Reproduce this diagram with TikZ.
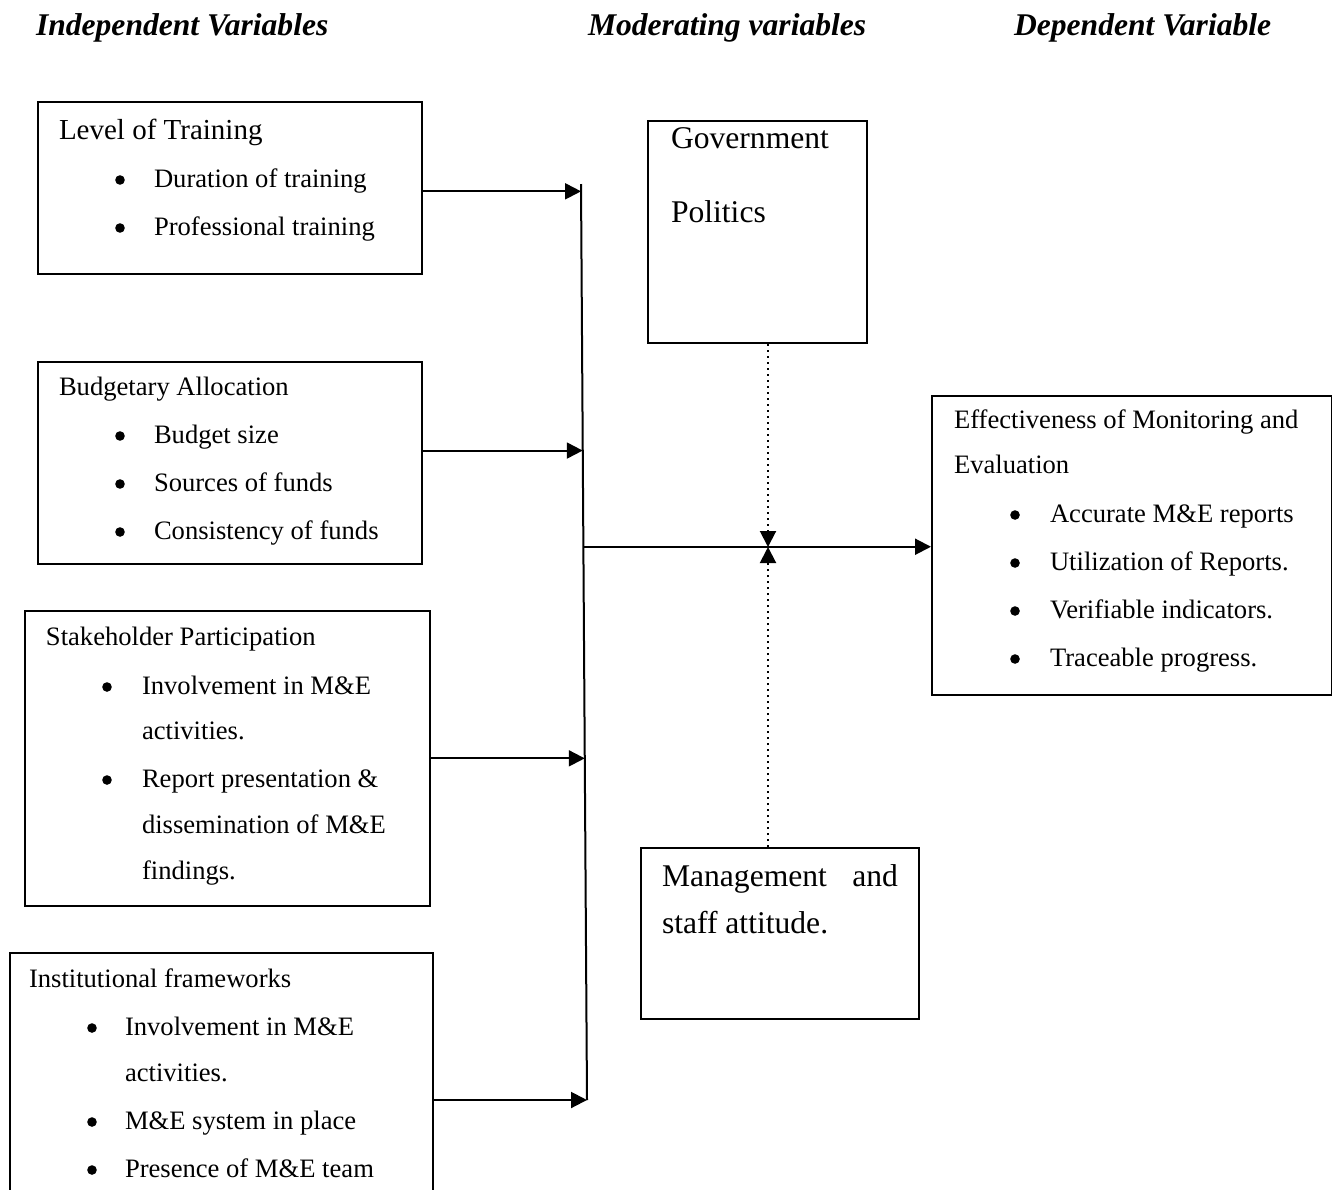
\documentclass[tikz,border=0pt]{standalone}
\usepackage{fontspec}
\setmainfont{Liberation Serif}
\usetikzlibrary{arrows.meta,calc}

\begin{document}
\begin{tikzpicture}[x=0.5pt,y=-0.5pt,line width=1pt,
  box/.style={draw=black,anchor=north west,inner sep=0pt},
  txt/.style={anchor=base west,inner sep=0pt,font=\fontsize{13.3}{16}\selectfont},
  bul/.style={circle,fill=black,inner sep=0pt,minimum size=4.8pt},
  big/.style={anchor=base west,inner sep=0pt,font=\fontsize{15.8}{19}\selectfont},
  head/.style={anchor=base west,inner sep=0pt,font=\fontsize{15.8}{19}\selectfont\bfseries\itshape},
  arr/.style={-{Triangle[length=8pt,width=8pt]}},
  dotarr/.style={-{Triangle[length=8pt,width=8pt]},dash pattern=on 1pt off 2pt}]
\useasboundingbox (0,0) rectangle (1332,1189);
\clip (0,0) rectangle (1332,1189);
\node[head] (hind) at (35,35) {Independent Variables};
\node[head] (hmod) at (587,35) {Moderating variables};
\node[head] (hdep) at (1013,35) {Dependent Variable};
% boxes
\node[box,minimum width=192pt,minimum height=86pt] (train) at (37,101) {};
\node[box,minimum width=192pt,minimum height=101pt] (budget) at (37,361) {};
\node[box,minimum width=202.5pt,minimum height=147.5pt] (stake) at (24,610) {};
\node[box,minimum width=211.5pt,minimum height=150pt] (inst) at (9,952) {};
\node[box,minimum width=109.5pt,minimum height=111pt] (gov) at (647,120) {};
\node[box,minimum width=200pt,minimum height=149.5pt] (effect) at (931,395) {};
\node[box,minimum width=139pt,minimum height=85.5pt] (mgmt) at (640,847) {};
% texts
\node[txt,font=\fontsize{14.5}{17}\selectfont] (train0) at (58,139) {Level of Training};
\node[bul] (train1b) at (120,180) {};
\node[txt] (train1) at (153,187) {Duration of training};
\node[bul] (train2b) at (120,228) {};
\node[txt] (train2) at (153,235) {Professional training};
\node[txt] (budget0) at (58,395) {Budgetary Allocation};
\node[bul] (budget1b) at (120,436) {};
\node[txt] (budget1) at (153,443) {Budget size};
\node[bul] (budget2b) at (120,484) {};
\node[txt] (budget2) at (153,491) {Sources of funds};
\node[bul] (budget3b) at (120,532) {};
\node[txt] (budget3) at (153,539) {Consistency of funds};
\node[txt] (stake0) at (45,645) {Stakeholder Participation};
\node[bul] (stake1b) at (107,687) {};
\node[txt] (stake1) at (141,694) {Involvement in M\&E};
\node[txt] (stake2) at (141,739) {activities.};
\node[bul] (stake3b) at (107,780) {};
\node[txt] (stake3) at (141,787) {Report presentation \&};
\node[txt] (stake4) at (141,833) {dissemination of M\&E};
\node[txt] (stake5) at (141,879) {findings.};
\node[txt] (inst0) at (28,987) {Institutional frameworks};
\node[bul] (inst1b) at (92,1028) {};
\node[txt] (inst1) at (124,1035) {Involvement in M\&E};
\node[txt] (inst2) at (124,1081) {activities.};
\node[bul] (inst3b) at (92,1122) {};
\node[txt] (inst3) at (124,1129) {M\&E system in place};
\node[bul] (inst4b) at (92,1170) {};
\node[txt] (inst4) at (124,1177) {Presence of M\&E team};
\node[big] (gov1) at (670,148) {Government};
\node[big] (gov2) at (670,222) {Politics};
\node[txt] (effect0) at (953,428) {Effectiveness of Monitoring and};
\node[txt] (effect00) at (953,473) {Evaluation};
\node[bul] (effect1b) at (1015,515) {};
\node[txt] (effect1) at (1049,522) {Accurate M\&E reports};
\node[bul] (effect2b) at (1015,563) {};
\node[txt] (effect2) at (1049,570) {Utilization of Reports.};
\node[bul] (effect3b) at (1015,611) {};
\node[txt] (effect3) at (1049,618) {Verifiable indicators.};
\node[bul] (effect4b) at (1015,659) {};
\node[txt] (effect4) at (1049,666) {Traceable progress.};
\node[big] (mgmt1) at (661,886) {\makebox[118pt][l]{Management\hfill and}};
\node[big] (mgmt2) at (661,933) {staff attitude.};
% connectors
\coordinate (jtop) at (581,184);
\coordinate (jbot) at (587,1100);
\coordinate (j1) at ($(jtop)!0.008!(jbot)$);
\coordinate (j2) at ($(jtop)!0.291!(jbot)$);
\coordinate (j3) at ($(jtop)!0.627!(jbot)$);
\coordinate (jmid) at ($(jtop)!0.396!(jbot)$);
\coordinate (meet) at (768,547);
\draw (jtop) -- (jbot);
\draw[arr] (train.east |- j1) -- (j1);
\draw[arr] (budget.east |- j2) -- (j2);
\draw[arr] (stake.east |- j3) -- (j3);
\draw[arr] (inst.east |- jbot) -- (jbot);
\draw[arr] (jmid) -- (effect.west |- jmid);
\draw[dotarr] (gov.south -| meet) -- (meet);
\draw[dotarr] (mgmt.north -| meet) -- (meet);
\end{tikzpicture}
\end{document}
